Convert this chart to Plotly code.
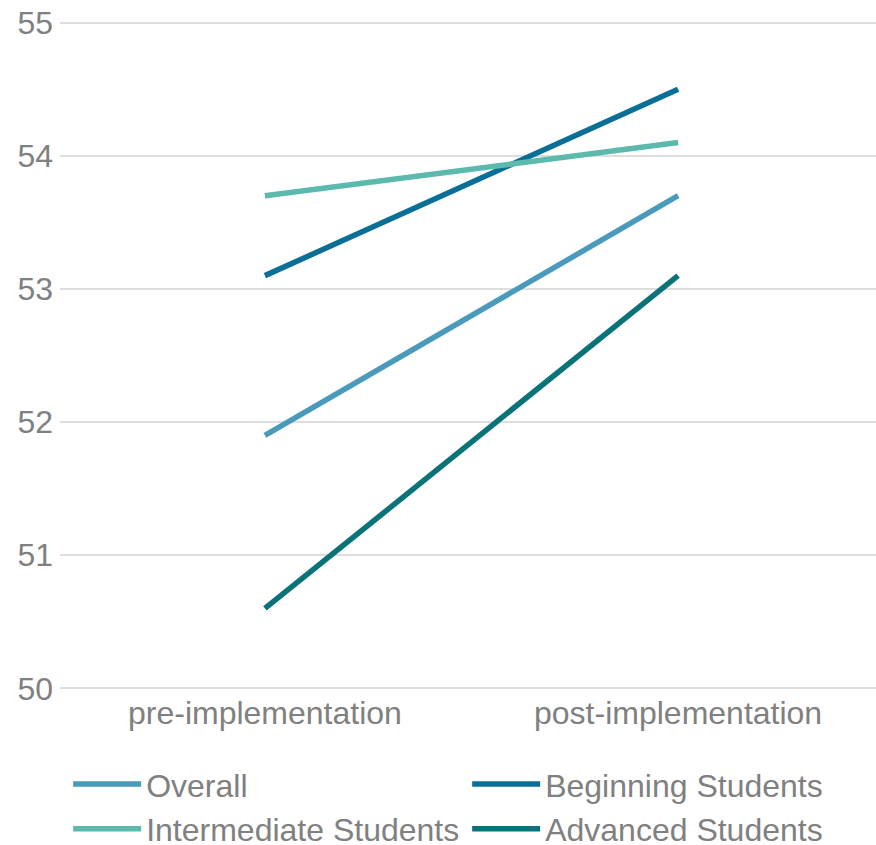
import plotly.graph_objects as go

categories = ["pre-implementation", "post-implementation"]
series_names = ["Overall", "Beginning Students", "Intermediate Students", "Advanced Students"]
overall = [51.9, 53.7]
beginning = [53.1, 54.5]
intermediate = [53.7, 54.1]
advanced = [50.6, 53.1]
y_ticks = [50, 51, 52, 53, 54, 55]

colors = ["#4A9BBB", "#0A6F96", "#5BBAAD", "#0A7279"]
series_values = [overall, beginning, intermediate, advanced]

fig = go.Figure()
for name, vals, col in zip(series_names, series_values, colors):
    fig.add_trace(go.Scatter(
        x=[0, 1], y=vals, name=name, mode="lines",
        line=dict(color=col, width=5.5),
    ))

font_col = "#808080"
fig.update_layout(
    width=876, height=845,
    margin=dict(l=60, r=0, t=20.3, b=154.3, autoexpand=False),
    paper_bgcolor="white", plot_bgcolor="white",
    font=dict(family="Liberation Sans, Arial, sans-serif", size=32, color=font_col),
    xaxis=dict(
        tickmode="array", tickvals=[0, 1], ticktext=categories,
        range=[-0.496, 1.479], showgrid=False, zeroline=False, showline=False,
        ticks="", tickfont=dict(size=32, color=font_col), automargin=False,
    ),
    yaxis=dict(
        range=[49.98, 55.02], tickvals=y_ticks, showgrid=True, gridcolor="#dedede",
        gridwidth=2, zeroline=False, showline=False, ticks="",
        tickfont=dict(size=32, color=font_col), ticklabelstandoff=6, automargin=False,
        ticklabeloverflow="allow",
    ),
    legend=dict(
        orientation="h", x=0.01, y=-0.098, xanchor="left", yanchor="top",
        entrywidth=316, entrywidthmode="pixels", itemwidth=68,
        font=dict(size=32, color=font_col), tracegroupgap=0,
        bgcolor="rgba(0,0,0,0)",
    ),
    showlegend=True,
)

fig.write_html(
    "out.html",
    config={"displayModeBar": False},
    post_script="document.body.style.margin='0';document.body.style.overflow='hidden';",
)
